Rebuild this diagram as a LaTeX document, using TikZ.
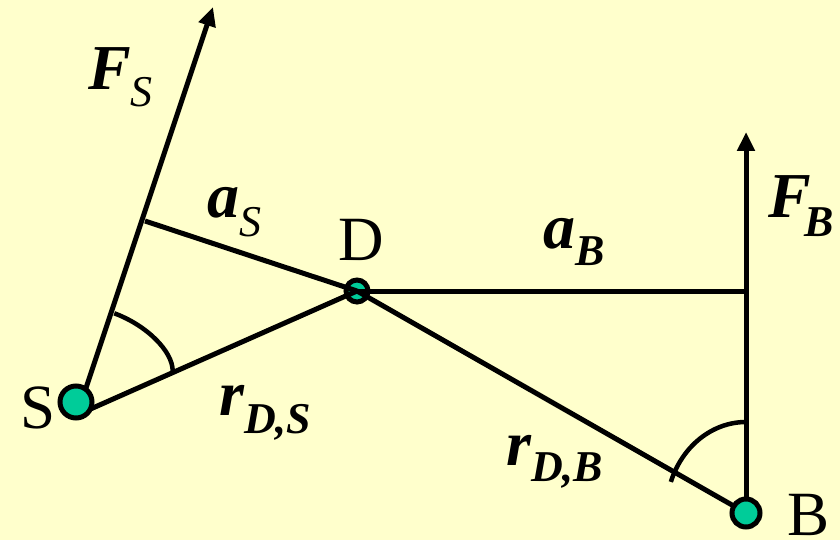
\documentclass[tikz,border=0pt]{standalone}
\usepackage{fontspec}
\setmainfont{Liberation Serif}
\usetikzlibrary{arrows.meta}
\definecolor{bgyellow}{HTML}{FFFFCC}
\definecolor{dotgreen}{HTML}{00CC99}
\newcommand{\bigfs}{\fontsize{64}{64}\selectfont}
\newcommand{\subfs}{\fontsize{44}{44}\selectfont}
\newcommand{\lblfs}{\fontsize{63}{63}\selectfont}
\begin{document}
\begin{tikzpicture}[x=1pt,y=-1pt,
  edge/.style={line width=5pt},
  force/.style={line width=5pt,-{Triangle[length=19pt,width=17pt]}},
  anglearc/.style={line width=4.5pt},
  dot/.style={circle,draw=black,fill=dotgreen,line width=5pt,inner sep=0pt},
  lbl/.style={anchor=base west,inner sep=0pt,font=\lblfs},
  sym/.style={anchor=base west,inner sep=0pt,font=\bigfs\bfseries\itshape}]
\fill[bgyellow] (0,0) rectangle (840,540);
\useasboundingbox (0,0) rectangle (840,540);
% key points
\coordinate (Sapex) at (77,415);
\coordinate (FStip) at (213,7);
\coordinate (aSfoot) at (145,221);
\coordinate (aBfoot) at (746,291);
\coordinate (Bc) at (746,513);
\coordinate (FBtip) at (746,132);
\coordinate (arcSa) at (114.3,313.3);
\coordinate (arcSb) at (172.7,371);
\coordinate (arcBa) at (746,422);
% D dot (lines run over it)
\node[dot,minimum size=22pt] (D) at (357,291) {};
% connectors
\draw[force] (Sapex) -- (FStip);
\draw[edge] (aSfoot) -- (D.center);
\draw[edge] (Sapex) -- (D.center);
\draw[edge] (D.center) -- (aBfoot);
\draw[edge] (D.center) -- (Bc);
\draw[force] (Bc) -- (FBtip);
% angle arcs
\draw[anglearc] (arcSa) .. controls (146.5,325.2) and (172.7,351.1) .. (arcSb);
\draw[anglearc] (arcBa) arc[start angle=-90,end angle=-160,x radius=80,y radius=91];
% S and B dots
\node[dot,minimum size=32pt] (S) at (76,402) {};
\node[dot,minimum size=28pt] (B) at (746,513) {};
% labels
\node[sym] (lFS) at (88,90) {F\raisebox{-17pt}{\subfs\mdseries S}};
\node[sym] (laS) at (207,218) {a\raisebox{-19pt}{\subfs\mdseries S}};
\node[lbl] (lD) at (338,260) {D};
\node[sym] (laB) at (543,248) {a\raisebox{-17pt}{\subfs B}};
\node[sym] (lFB) at (768,217) {F\kern-6pt\raisebox{-20pt}{\subfs B}};
\node[sym] (lrDS) at (219,415) {r\raisebox{-18pt}{\subfs D,S}};
\node[sym] (lrDB) at (506,465) {r\raisebox{-16pt}{\subfs D,B}};
\node[lbl] (lS) at (20,428) {S};
\node[lbl] (lB) at (787,535) {B};
\end{tikzpicture}
\end{document}
